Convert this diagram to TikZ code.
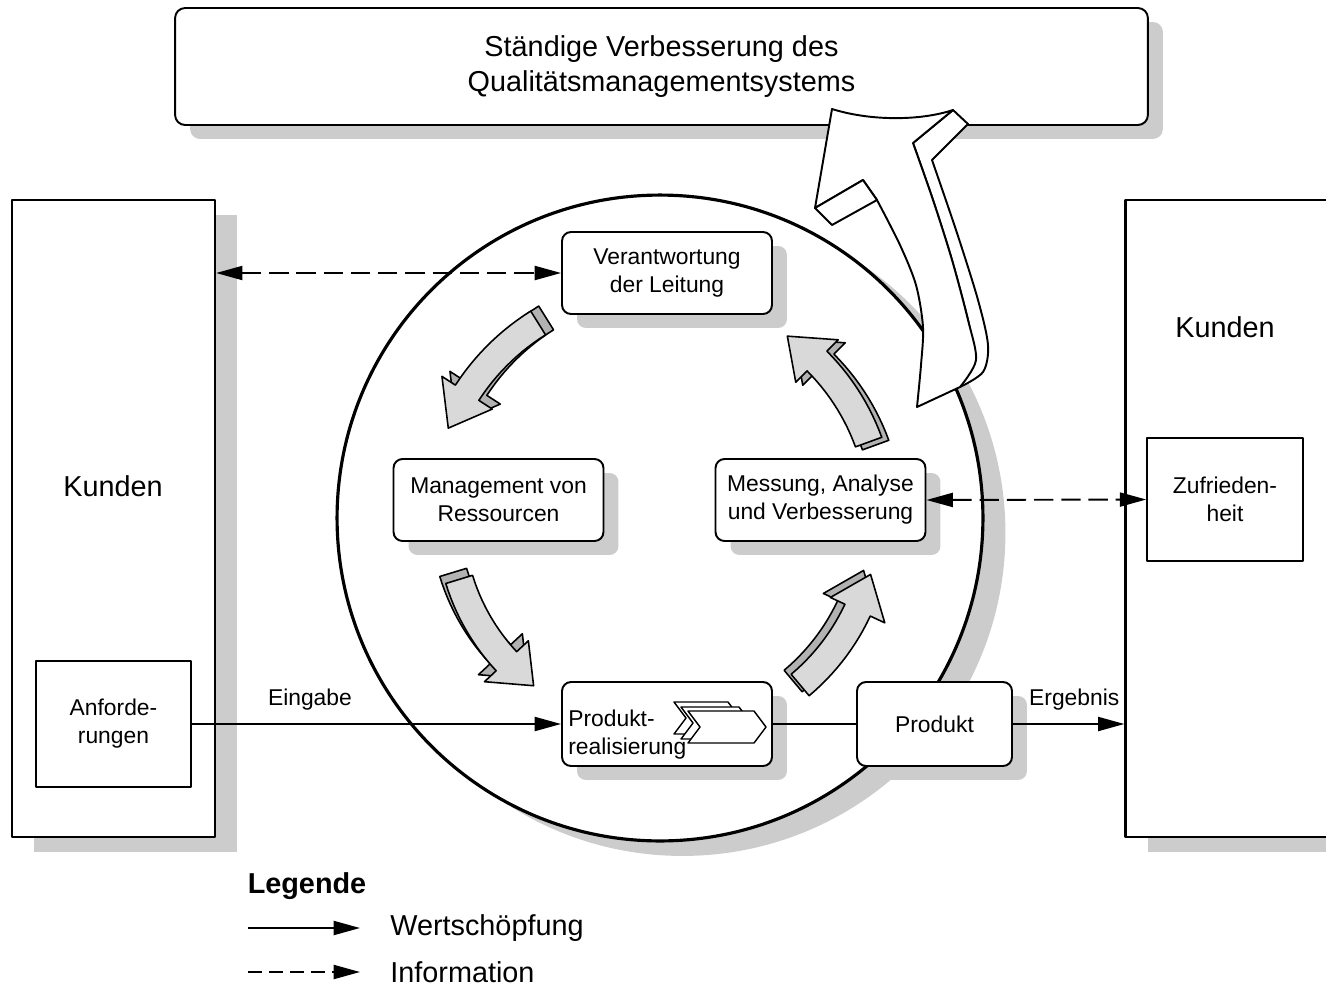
\documentclass[tikz,border=0pt]{standalone}
\usepackage{fontspec}
\setmainfont{Liberation Sans}
\usetikzlibrary{arrows.meta,shadows}

% gebogener Pfeil um den Kreismittelpunkt: Startwinkel, Spitzenwinkel, Radius, Versatz x, Versatz y
\newcommand{\bogenpfeil}[5]{%
  \pgfmathsetmacro\kopfbasis{#2+10}%
  \filldraw[pfeilrueck, shift={(#4,#5)}] plot[domain=#1:\kopfbasis,samples=14] ({\x}:{#3+14}) -- ({\kopfbasis}:{#3+30}) -- ({#2}:{#3}) -- ({\kopfbasis}:{#3-30}) -- plot[domain=\kopfbasis:#1,samples=14] ({\x}:{#3-14}) -- cycle;
  \filldraw[pfeilvorn] plot[domain=#1:\kopfbasis,samples=14] ({\x}:{#3+14}) -- ({\kopfbasis}:{#3+30}) -- ({#2}:{#3}) -- ({\kopfbasis}:{#3-30}) -- plot[domain=\kopfbasis:#1,samples=14] ({\x}:{#3-14}) -- cycle;
}

\begin{document}
\begin{tikzpicture}[x=0.02cm,y=-0.02cm,line join=round]
\tikzstyle{schatten}=[drop shadow={shadow xshift=0.3cm,shadow yshift=-0.28cm,fill=black!20,opacity=1}]
\tikzstyle{prozess}=[draw, rounded corners=0.18cm, fill=white, line width=1.1pt, minimum width=4.2cm, minimum height=1.64cm, align=center, font=\fontsize{13}{15.9}\selectfont, schatten]
\tikzstyle{kunde}=[draw, fill=white, line width=1.3pt, minimum width=4.06cm, minimum height=12.74cm, drop shadow={shadow xshift=0.44cm,shadow yshift=-0.3cm,fill=black!20,opacity=1}]
\tikzstyle{innen}=[draw, fill=white, line width=0.9pt, align=center, font=\fontsize{13}{15.9}\selectfont]
\tikzstyle{gross}=[font=\fontsize{16.4}{20.4}\selectfont]
\tikzstyle{klein}=[font=\fontsize{13}{15.9}\selectfont]
\tikzstyle{wert}=[-{Triangle[length=15pt,width=8pt]}, line width=1.1pt]
\tikzstyle{info}=[{Triangle[length=15pt,width=8pt]}-{Triangle[length=15pt,width=8pt]}, line width=1.1pt, dash pattern=on 11pt off 4.5pt]
\tikzstyle{pfeilrueck}=[draw, line width=0.9pt, fill=black!30]
\tikzstyle{pfeilvorn}=[draw, line width=0.9pt, fill=black!15]
\tikzstyle{weiss}=[draw, line width=1.1pt, fill=white]

\useasboundingbox (0,0) rectangle (1326,991);

% Kunden
\node[kunde] (kundenL) at (113.5,518.5) {};
\node[kunde] (kundenR) at (1227,518.5) {};
\node[gross] (kundeL) at (113,486) {Kunden};
\node[gross] (kundeR) at (1225,327) {Kunden};
\node[innen, minimum width=3.1cm, minimum height=2.52cm] (anford) at (113.5,724) {Anforde-\\rungen};
\node[innen, minimum width=3.12cm, minimum height=2.46cm] (zufrieden) at (1225,499.5) {Zufrieden-\\heit};

% Kreis und Verbesserung
\node[circle, draw, line width=1.8pt, fill=white, minimum size=12.92cm, drop shadow={shadow xshift=0.45cm,shadow yshift=-0.3cm,fill=black!20,opacity=1}] (kreis) at (660,518) {};
\node[draw, rounded corners=0.2cm, line width=1.1pt, fill=white, minimum width=19.46cm, minimum height=2.34cm, align=center, gross, schatten] (verbesserung) at (661.5,66.5) {Ständige Verbesserung des\\Qualitätsmanagementsystems};

% grosser Pfeil
\filldraw[weiss] (953,110) -- (968,124) -- plot[smooth] coordinates {(932,160) (957,233) (978,300) (988,345) (983,372) (960,387)}
  -- plot[smooth] coordinates {(976,360) (968,320) (952,260) (933,200) (913,143)} -- cycle;
\filldraw[weiss] (832,109) .. controls (870,121) and (920,121) .. (953,110)
  -- plot[smooth] coordinates {(913,143) (933,200) (952,260) (968,320) (976,360) (960,387)}
  -- plot[smooth] coordinates {(917,407) (921,365) (923,327) (916,285) (900,245) (877,200)}
  -- (863,180) -- (815,208) -- cycle;
\filldraw[weiss] (815,208) -- (832,225) -- (877,200) -- (863,180) -- cycle;

% Kreislauf
\begin{scope}[shift={(660,518)}]
\bogenpfeil{238}{203}{230}{8}{-5}
\bogenpfeil{340}{305}{222}{7}{3}
\bogenpfeil{163}{127}{210}{-6}{-7}
\bogenpfeil{50}{15}{218}{-7}{-4}
\end{scope}

% Prozesse
\node[prozess] (verant) at (667,273) {Verantwortung\\der Leitung};
\node[prozess] (mgmt) at (498.5,500) {Management von\\Ressourcen};
\node[prozess] (messung) at (820.5,500) {Messung, Analyse\\und Verbesserung};
\node[prozess, minimum height=1.68cm] (prodreal) at (667,724) {};
\node[prozess, minimum width=3.1cm, minimum height=1.68cm] (produkt) at (934.5,724) {Produkt};
\foreach \ox/\oy/\w in {674/702/54, 681/707/58, 688/711/66}
  \draw[fill=white, line width=0.8pt, shift={(\ox,\oy)}] (0,0) -- (\w,0) -- (\w+12,16) -- (\w,32) -- (0,32) -- (12,16) -- cycle;
\node[anchor=west, align=left, klein, inner sep=0pt] (prodtext) at (568,735) {Produkt-\\realisierung};

% Verbindungen
\draw[info] (kundenL.east |- verant.west) -- (verant.west);
\draw[info] (messung.east) -- (zufrieden.west);
\draw[wert] (anford.east) -- node[pos=0.32, above=4pt, klein] (eingabe) {Eingabe} (prodreal.west);
\draw[line width=1.1pt] (prodreal.east) -- (produkt.west);
\draw[wert] (produkt.east) -- node[pos=0.55, above=4pt, klein] (ergebnis) {Ergebnis} (kundenR.west |- produkt.east);

% Legende
\node[gross, font=\fontsize{16.4}{20.4}\selectfont\bfseries] (legende) at (307,886) {Legende};
\coordinate (lw0) at (248,928);
\coordinate (lw1) at (360,928);
\coordinate (li0) at (248,972);
\coordinate (li1) at (360,972);
\node[gross, anchor=west, inner sep=0pt] (lwert) at (390,928) {Wertschöpfung};
\node[gross, anchor=west, inner sep=0pt] (linfo) at (390,972) {Information};
\draw[wert] (lw0) -- (lw1);
\draw[-{Triangle[length=15pt,width=8pt]}, line width=1.1pt, dash pattern=on 8pt off 4pt] (li0) -- (li1);
\end{tikzpicture}
\end{document}
